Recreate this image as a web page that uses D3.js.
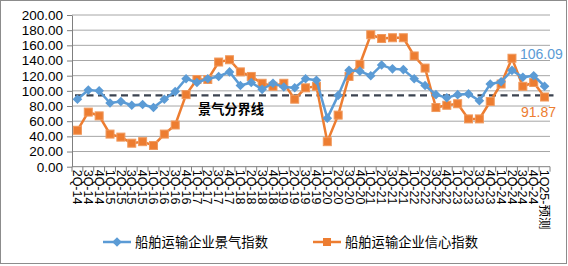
<!DOCTYPE html>
<html>
<head>
<meta charset="utf-8">
<script src="https://cdn.jsdelivr.net/npm/d3@7"></script>
<style>
  body { margin: 0; background: #fff; }
  svg { display: block; font-family: "Liberation Sans", Arial, sans-serif; }
  .grid line { stroke: #a6a6a6; stroke-width: 1; }
  .axis path, .axis line { stroke: #7f7f7f; }
  .cjk { font-family: "Noto Sans CJK SC", sans-serif; }
</style>
</head>
<body>
<div class="chart"></div>
<script>
const categories = [
  "2Q-14", "3Q-14", "4Q-14",
  "1Q-15", "2Q-15", "3Q-15", "4Q-15",
  "1Q-16", "2Q-16", "3Q-16", "4Q-16",
  "1Q-17", "2Q-17", "3Q-17", "4Q-17",
  "1Q-18", "2Q-18", "3Q-18", "4Q-18",
  "1Q-19", "2Q-19", "3Q-19", "4Q-19",
  "1Q-20", "2Q-20", "3Q-20", "4Q-20",
  "1Q-21", "2Q-21", "3Q-21", "4Q-21",
  "1Q-22", "2Q-22", "3Q-22", "4Q-22",
  "1Q-23", "2Q-23", "3Q-23", "4Q-23",
  "1Q-24", "2Q-24", "3Q-24", "4Q-24",
  "1Q25-预测"
];

const prosperity = [
  89, 101, 100, 84, 86, 81, 82, 78, 89, 99, 116,
  111, 116, 119, 125, 107, 111, 102, 110, 105, 104, 116,
  114, 64, 94, 127, 126, 120, 134, 129, 128, 116, 107,
  95, 91, 95, 96, 87, 109, 112, 127, 118, 120, 106.09
];

const confidence = [
  48, 72, 67, 43, 39, 31, 33, 28, 43, 55, 95,
  115, 115, 138, 141, 125, 119, 110, 106, 110, 89, 104,
  106, 33, 68, 119, 135, 174, 169, 170, 170, 146, 130,
  78, 81, 83, 63, 63, 86, 109, 143, 106, 111, 91.87
];

const boundary = 94;
const yTicks = d3.range(0, 201, 20);
const seriesNames = ["船舶运输企业景气指数", "船舶运输企业信心指数"];
const colors = ["#5B9BD5", "#ED7D31"];

const W = 568, H = 266;
const plot = { left: 72, right: 550, top: 15, bottom: 166.7 };

const svg = d3.select(".chart").append("svg")
  .attr("width", W).attr("height", H);

// outer frame
svg.append("rect")
  .attr("x", 0.5).attr("y", 0.5)
  .attr("width", W - 2).attr("height", H - 3)
  .attr("fill", "#fff").attr("stroke", "#8c8c8c");

const x = d3.scaleBand().domain(categories).range([plot.left, plot.right]);
const y = d3.scaleLinear().domain([0, 200]).range([plot.bottom, plot.top]);
const cx = (d) => x(d) + x.bandwidth() / 2;

// gridlines
svg.append("g").attr("class", "grid")
  .selectAll("line").data(yTicks.filter((d) => d > 0)).enter()
  .append("line")
  .attr("x1", plot.left).attr("x2", plot.right)
  .attr("y1", (d) => y(d)).attr("y2", (d) => y(d));

// y axis
const yAxis = svg.append("g").attr("class", "axis")
  .attr("transform", "translate(" + plot.left + ",0)")
  .call(d3.axisLeft(y).tickValues(yTicks).tickFormat(d3.format(".2f"))
    .tickSize(5).tickPadding(4).tickSizeOuter(0));
yAxis.selectAll("text").attr("font-size", "13.5px").attr("fill", "#000")
  .attr("font-family", "Liberation Sans, Arial, sans-serif");

// x axis line + boundary ticks
const xAxis = svg.append("g").attr("class", "axis");
xAxis.append("line")
  .attr("x1", plot.left).attr("x2", plot.right)
  .attr("y1", plot.bottom).attr("y2", plot.bottom);
xAxis.selectAll(".xt").data(categories.concat([null])).enter()
  .append("line").attr("class", "xt")
  .attr("x1", (d) => (d ? x(d) : plot.right))
  .attr("x2", (d) => (d ? x(d) : plot.right))
  .attr("y1", plot.bottom).attr("y2", plot.bottom + 5);

xAxis.selectAll("text").data(categories).enter()
  .append("text")
  .attr("transform", (d) => "translate(" + cx(d) + "," + (plot.bottom + 3) + ") rotate(90)")
  .attr("dy", "0.35em")
  .attr("font-size", "12.5px")
  .attr("font-family", "Liberation Sans, 'Noto Sans CJK SC', sans-serif")
  .attr("fill", "#000")
  .text((d) => d);

// boundary dashed line
svg.append("line")
  .attr("x1", plot.left + 3).attr("x2", plot.right + 5)
  .attr("y1", y(boundary)).attr("y2", y(boundary))
  .attr("stroke", "#3b4350").attr("stroke-width", 2.2)
  .attr("stroke-dasharray", "7,4.5");

svg.append("text").attr("class", "cjk")
  .attr("x", 198).attr("y", y(boundary) + 13.5)
  .attr("dy", "0.35em")
  .attr("font-size", "13.2px").attr("font-weight", "bold")
  .text("景气分界线");

const line = d3.line().x((d, i) => cx(categories[i])).y((d) => y(d));
const diamond = "M0,-4.8L4.8,0L0,4.8L-4.8,0Z";

// confidence (orange)
svg.append("path").datum(confidence)
  .attr("d", line).attr("fill", "none")
  .attr("stroke", colors[1]).attr("stroke-width", 2.5);
svg.append("g").selectAll("rect").data(confidence).enter()
  .append("rect")
  .attr("x", (d, i) => cx(categories[i]) - 4)
  .attr("y", (d) => y(d) - 4)
  .attr("width", 8).attr("height", 8)
  .attr("fill", colors[1]).attr("stroke", "#f09a5e").attr("stroke-width", 1);

// prosperity (blue)
svg.append("path").datum(prosperity)
  .attr("d", line).attr("fill", "none")
  .attr("stroke", colors[0]).attr("stroke-width", 2.5);
svg.append("g").selectAll("path").data(prosperity).enter()
  .append("path")
  .attr("d", diamond)
  .attr("transform", (d, i) => "translate(" + cx(categories[i]) + "," + y(d) + ")")
  .attr("fill", colors[0]);

// end labels
const last = categories.length - 1;
svg.append("text")
  .attr("x", 520).attr("y", 54).attr("dy", "0.35em")
  .attr("font-size", "14px").attr("fill", colors[0])
  .text(d3.format(".2f")(prosperity[last]));
svg.append("text")
  .attr("x", 521).attr("y", 112).attr("dy", "0.35em")
  .attr("font-size", "14px").attr("fill", colors[1])
  .text(d3.format(".2f")(confidence[last]));

// legend
const legend = [
  { name: seriesNames[0], color: colors[0], x: 103, kind: "diamond" },
  { name: seriesNames[1], color: colors[1], x: 313, kind: "square" }
];
const lg = svg.append("g").selectAll("g").data(legend).enter()
  .append("g").attr("transform", (d) => "translate(" + d.x + ",242)");
lg.append("line").attr("x1", 0).attr("x2", 28)
  .attr("stroke", (d) => d.color).attr("stroke-width", 2.5);
lg.filter((d) => d.kind === "diamond").append("path")
  .attr("d", diamond).attr("transform", "translate(14,0)")
  .attr("fill", (d) => d.color);
lg.filter((d) => d.kind === "square").append("rect")
  .attr("x", 10).attr("y", -4).attr("width", 8).attr("height", 8)
  .attr("fill", (d) => d.color);
lg.append("text").attr("class", "cjk")
  .attr("x", 32).attr("dy", "0.35em")
  .attr("font-size", "13.3px").attr("fill", "#000")
  .text((d) => d.name);
</script>
</body>
</html>
